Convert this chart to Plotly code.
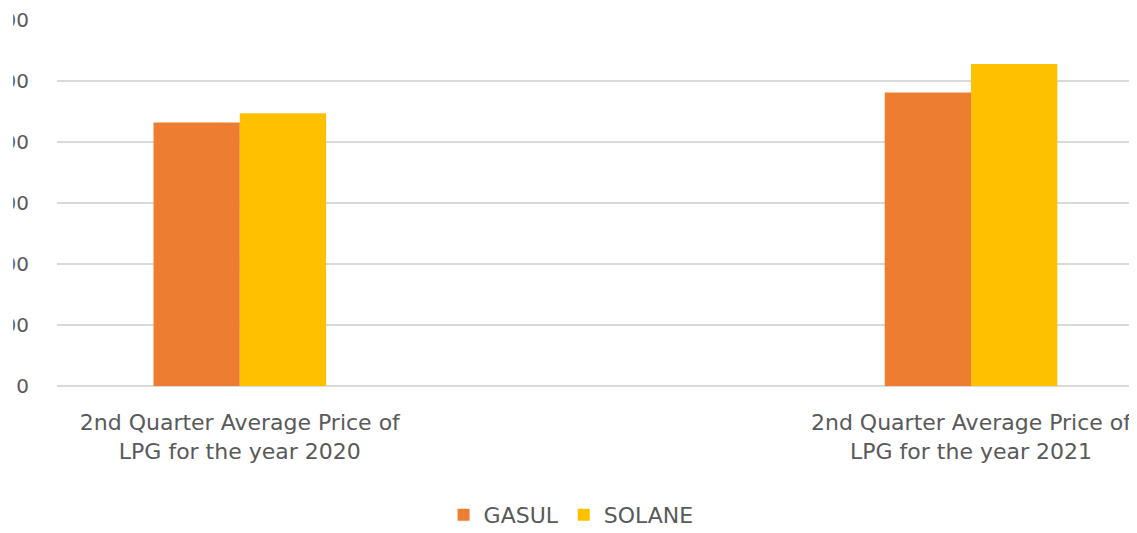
import plotly.graph_objects as go

categories = ["2nd Quarter Average Price of<br>LPG for the year 2020",
              "2nd Quarter Average Price of<br>LPG for the year 2021"]
gasul = [864, 962]
solane = [894, 1056]
y_ticks = [0, 200, 400, 600, 800, 1000, 1200]

# page body has an 8px margin, so the figure is sized to end at the window edge
W, H = 1129, 525
ML, MR, MT, MB = 49, 0, 12, 147
PW = W - ML - MR
PH = H - MT - MB

font_family = "'DejaVu Sans', sans-serif"
txt = "#595959"

fig = go.Figure()
fig.add_trace(go.Bar(name="GASUL", x=categories, y=gasul, marker_color="#ED7D31",
                     marker_line_width=0))
fig.add_trace(go.Bar(name="SOLANE", x=categories, y=solane, marker_color="#FFC000",
                     marker_line_width=0))

fig.update_layout(
    width=W, height=H,
    margin=dict(l=ML, r=MR, t=MT, b=MB, autoexpand=False),
    paper_bgcolor="white", plot_bgcolor="white",
    barmode="group", bargap=0.764, bargroupgap=0,
    font=dict(family=font_family, size=20, color=txt),
    showlegend=True,
    legend=dict(orientation="h", x=0.476, xanchor="center", y=-0.352, yanchor="middle",
                font=dict(size=22, color=txt), bgcolor="rgba(0,0,0,0)"),
    xaxis=dict(range=[-0.25, 1.227], showgrid=False, showline=False, zeroline=False,
               ticks="", tickfont=dict(size=22, color=txt), ticklabelstandoff=21,
               automargin=False),
    yaxis=dict(range=[0, 1200], tickvals=y_ticks, showgrid=True, gridcolor="#D9D9D9",
               gridwidth=1.5, zeroline=True, zerolinecolor="#D9D9D9", zerolinewidth=1.5,
               showline=False, ticks="", tickfont=dict(size=20, color=txt),
               ticklabelstandoff=27, automargin=False),
)

# white band reproducing the cropped left edge of the original image
fig.add_shape(type="rect", xref="paper", yref="paper",
              x0=-ML / PW, x1=(5.2 - ML) / PW, y0=-0.2, y1=1.1,
              fillcolor="white", line_width=0, layer="above")

fig.write_html("out.html")
